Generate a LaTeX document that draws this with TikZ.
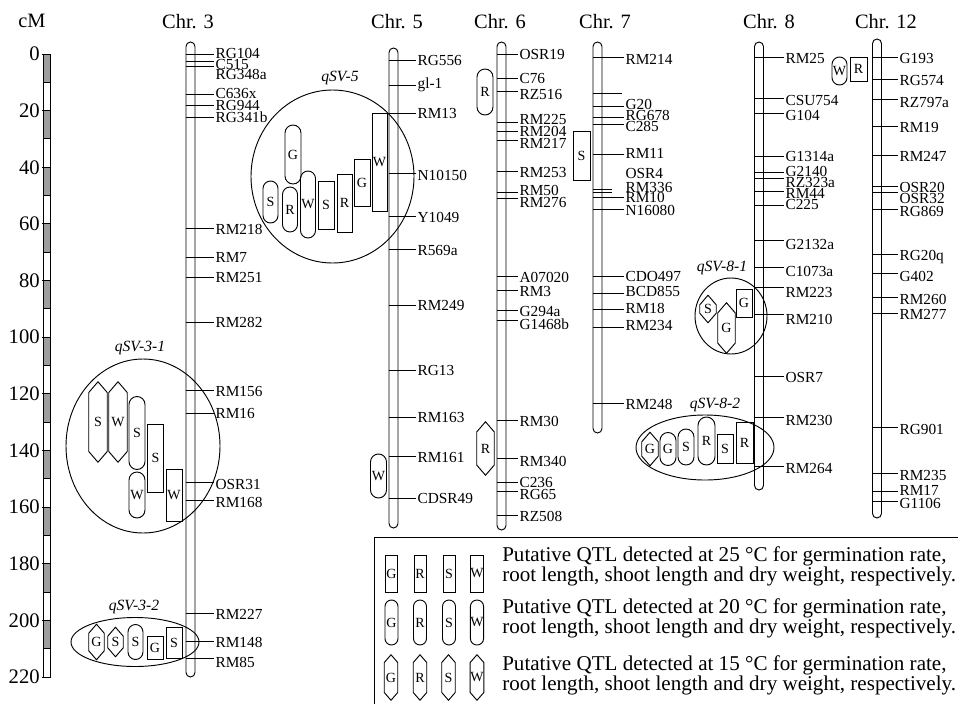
\documentclass[tikz,border=0pt]{standalone}
\usepackage{fontspec}
\setmainfont{Liberation Serif}
\usetikzlibrary{shapes.geometric,positioning}

\newcommand{\pxu}{0.75pt}
\tikzset{
  chrbar/.style={draw, line width=0.7pt, inner sep=0pt, minimum width=9*\pxu, rounded corners=4.5*\pxu},
  mline/.style={line width=0.7pt},
  mlabel/.style={anchor=west, inner sep=1pt, font=\fontsize{11.5}{12}\selectfont},
  chrtitle/.style={inner sep=0pt, font=\fontsize{15.3}{16}\selectfont},
  axnum/.style={anchor=east, inner sep=0pt, font=\fontsize{15.5}{16}\selectfont},
  qbox/.style={draw, line width=0.7pt, inner sep=0pt, font=\fontsize{10.5}{11}\selectfont},
  qcore/.style={inner sep=0pt, font=\fontsize{10.5}{11}\selectfont},
  qline/.style={line width=0.7pt},
  zone/.style={draw, ellipse, line width=0.7pt, inner sep=0pt},
  qname/.style={inner sep=0pt, font=\fontsize{11.7}{12}\selectfont\itshape},
  legtext/.style={anchor=west, align=left, inner sep=0pt, font=\fontsize{15.8}{15}\selectfont}
}
% chromosome bar: name, x, top, bottom
\newcommand{\chrom}[4]{\node[chrbar, minimum height={(#4-#3)*\pxu}] (#1) at (#2,{(#3+#4)/2}) {};}
% marker: bar, label x, line y, label y, name
\newcommand{\mkr}[5]{%
  \coordinate (#5-y) at (0,#3);
  \node[mlabel] (#5) at (#2,#4) {#5};
  \draw[mline] (#1.west |- #5-y) -- (#5.west |- #5-y);}
% short marker line: bar, line end x, label x, line y, label y, name
\newcommand{\mkrs}[6]{%
  \coordinate (#6-y) at (#2,#4);
  \node[mlabel] (#6) at (#3,#5) {#6};
  \draw[mline] (#1.west |- #6-y) -- (#6-y);}
% QTL boxes: name, x, y, width, height, letter
\newcommand{\qrect}[6]{\node[qbox, minimum width=#4*\pxu, minimum height=#5*\pxu] (#1) at (#2,#3) {#6};}
\newcommand{\qround}[6]{\node[qbox, rounded corners=#4*\pxu/2, minimum width=#4*\pxu, minimum height=#5*\pxu] (#1) at (#2,#3) {#6};}
\newcommand{\qhex}[6]{%
  \node[qcore, minimum width=#4*\pxu, minimum height=#5*\pxu] (#1) at (#2,#3) {#6};
  \draw[qline] (#1.north) -- ([yshift=-0.6*#4*\pxu]#1.north east) -- ([yshift=0.6*#4*\pxu]#1.south east)
    -- (#1.south) -- ([yshift=0.6*#4*\pxu]#1.south west) -- ([yshift=-0.6*#4*\pxu]#1.north west) -- cycle;}

\begin{document}
\begin{tikzpicture}[x=0.75pt, y=-0.75pt]
  \useasboundingbox (0,0) rectangle (958,704);

  % scale in cM
  \node[chrtitle] (cm) at (32,21) {cM};
  \foreach \i in {0,2,...,20}
    \fill[black!38] (43.5,{54+28.32*\i}) rectangle (50.5,{54+28.32*(\i+1)});
  \foreach \i in {1,...,21}
    \draw[mline] (43.5,{54+28.32*\i}) -- (50.5,{54+28.32*\i});
  \draw[mline] (43.5,54) rectangle (50.5,677);
  \foreach \v in {0,20,...,220} {
    \node[axnum] (ax\v) at (40,{54+2.832*\v}) {\v};
    \draw[mline] (41.5,{54+2.832*\v}) -- (43.5,{54+2.832*\v});
  }

  % chromosomes
  \chrom{c3}{190.5}{42}{677}
  \chrom{c5}{393.5}{48}{528}
  \chrom{c6}{501.5}{42}{530}
  \chrom{c7}{597.5}{42}{433}
  \chrom{c8}{759}{42}{490}
  \chrom{c12}{877}{39}{518}
  \node[chrtitle] (t3) at (188,22) {Chr. 3};
  \node[chrtitle] (t5) at (397,22) {Chr. 5};
  \node[chrtitle] (t6) at (500,22) {Chr. 6};
  \node[chrtitle] (t7) at (605,22) {Chr. 7};
  \node[chrtitle] (t8) at (769,22) {Chr. 8};
  \node[chrtitle] (t12) at (886,22) {Chr. 12};

  % Chr. 3
  \mkr{c3}{214}{54}{53}{RG104}
  \mkr{c3}{214}{61}{64}{C515}
  \mkr{c3}{214}{66}{74}{RG348a}
  \mkr{c3}{214}{94}{93}{C636x}
  \mkr{c3}{214}{105}{105}{RG944}
  \mkr{c3}{214}{117}{117}{RG341b}
  \mkr{c3}{214}{228}{229}{RM218}
  \mkr{c3}{214}{257}{257}{RM7}
  \mkr{c3}{214}{277}{277}{RM251}
  \mkr{c3}{214}{322}{322}{RM282}
  \mkr{c3}{214}{390}{391}{RM156}
  \mkr{c3}{214}{413}{413}{RM16}
  \mkr{c3}{214}{482}{484}{OSR31}
  \mkr{c3}{214}{500}{502}{RM168}
  \mkr{c3}{214}{613}{614}{RM227}
  \mkr{c3}{214}{641}{642}{RM148}
  \mkr{c3}{214}{658}{662}{RM85}

  % Chr. 5
  \mkr{c5}{416}{60}{60}{RG556}
  \mkr{c5}{416}{85}{85}{gl-1}
  \mkr{c5}{416}{113}{113}{RM13}
  \mkr{c5}{416}{173}{175}{N10150}
  \mkr{c5}{416}{216}{217}{Y1049}
  \mkr{c5}{416}{249}{250}{R569a}
  \mkr{c5}{416}{305}{305}{RM249}
  \mkr{c5}{416}{370}{370}{RG13}
  \mkr{c5}{416}{417}{417}{RM163}
  \mkr{c5}{416}{456}{457}{RM161}
  \mkr{c5}{416}{498}{498}{CDSR49}

  % Chr. 6
  \mkr{c6}{518}{54}{54}{OSR19}
  \mkr{c6}{518}{78}{78}{C76}
  \mkr{c6}{518}{91}{94}{RZ516}
  \mkr{c6}{518}{122}{119}{RM225}
  \mkr{c6}{518}{131}{131}{RM204}
  \mkr{c6}{518}{140}{143}{RM217}
  \mkr{c6}{518}{171}{172}{RM253}
  \mkr{c6}{518}{192}{190}{RM50}
  \mkr{c6}{518}{198}{202}{RM276}
  \mkr{c6}{518}{276}{277}{A07020}
  \mkr{c6}{518}{290}{291}{RM3}
  \mkr{c6}{518}{310}{311}{G294a}
  \mkr{c6}{518}{320}{324}{G1468b}
  \mkr{c6}{518}{420}{421}{RM30}
  \mkr{c6}{518}{458}{461}{RM340}
  \mkr{c6}{518}{482}{482}{C236}
  \mkr{c6}{518}{491}{494}{RG65}
  \mkr{c6}{518}{515}{516}{RZ508}

  % Chr. 7
  \mkr{c7}{624}{57}{59}{RM214}
  \coordinate (c7u) at (622,93);
  \draw[mline] (c7.west |- c7u) -- (c7u);
  \mkr{c7}{624}{106}{104}{G20}
  \mkr{c7}{624}{117}{115}{RG678}
  \mkr{c7}{624}{124}{126}{C285}
  \mkr{c7}{624}{154}{153}{RM11}
  \mkrs{c7}{612}{624}{189}{173}{OSR4}
  \mkrs{c7}{612}{624}{192}{187}{RM336}
  \mkr{c7}{624}{197}{197}{RM10}
  \mkr{c7}{624}{209}{210}{N16080}
  \mkr{c7}{624}{276}{276}{CDO497}
  \mkr{c7}{624}{293}{291}{BCD855}
  \mkr{c7}{624}{309}{308}{RM18}
  \mkr{c7}{624}{327}{325}{RM234}
  \mkr{c7}{624}{403}{404}{RM248}

  % Chr. 8
  \mkr{c8}{784}{57}{58}{RM25}
  \mkr{c8}{784}{98}{100}{CSU754}
  \mkr{c8}{784}{113}{115}{G104}
  \mkr{c8}{784}{156}{156}{G1314a}
  \mkr{c8}{784}{172}{171}{G2140}
  \mkr{c8}{784}{178}{182}{RZ323a}
  \mkr{c8}{784}{191}{193}{RM44}
  \mkr{c8}{784}{205}{204}{C225}
  \mkr{c8}{784}{240}{244}{G2132a}
  \mkr{c8}{784}{267}{271}{C1073a}
  \mkr{c8}{784}{287}{292}{RM223}
  \mkr{c8}{784}{314}{319}{RM210}
  \mkr{c8}{784}{376}{377}{OSR7}
  \mkr{c8}{784}{417}{420}{RM230}
  \mkr{c8}{784}{466}{468}{RM264}

  % Chr. 12
  \mkr{c12}{898}{57}{58}{G193}
  \mkr{c12}{898}{79}{80}{RG574}
  \mkr{c12}{898}{99}{102}{RZ797a}
  \mkr{c12}{898}{126}{127}{RM19}
  \mkr{c12}{898}{155}{156}{RM247}
  \mkr{c12}{898}{186}{187}{OSR20}
  \mkr{c12}{898}{192}{198}{OSR32}
  \mkr{c12}{898}{209}{211}{RG869}
  \mkr{c12}{898}{254}{257}{RG20q}
  \mkr{c12}{898}{273}{276}{G402}
  \mkr{c12}{898}{297}{299}{RM260}
  \mkr{c12}{898}{313}{314}{RM277}
  \mkr{c12}{898}{427}{429}{RG901}
  \mkr{c12}{898}{473}{475}{RM235}
  \mkr{c12}{898}{491}{490}{RM17}
  \mkr{c12}{898}{501}{503}{G1106}

  % QTL zones
  \node[zone, minimum width=154*\pxu, minimum height=174*\pxu] (z31) at (143,446) {};
  \node[qname] (n31) at (140,348) {qSV-3-1};
  \node[zone, minimum width=128*\pxu, minimum height=49*\pxu] (z32) at (135,642) {};
  \node[qname] (n32) at (134,607) {qSV-3-2};
  \node[zone, minimum width=163*\pxu, minimum height=173*\pxu] (z5) at (332.5,176.5) {};
  \node[qname] (n5) at (340,78) {qSV-5};
  \node[zone, minimum width=72*\pxu, minimum height=76*\pxu] (z81) at (731,316) {};
  \node[qname] (n81) at (722,268) {qSV-8-1};
  \node[zone, minimum width=138*\pxu, minimum height=65*\pxu] (z82) at (705,447.5) {};
  \node[qname] (n82) at (715,405) {qSV-8-2};

  % qSV-3-1
  \qhex{a31S}{98}{422}{18}{80}{S}
  \qhex{a31W}{118}{422}{18}{80}{W}
  \qround{b31S}{137}{433}{16}{73}{S}
  \qround{b31W}{137}{495}{16}{46}{W}
  \qrect{c31S}{155.5}{458}{16}{68}{S}
  \qrect{c31W}{174}{495}{16}{52}{W}
  % qSV-3-2
  \qhex{a32G}{96.5}{642}{15}{35}{G}
  \qhex{a32S}{115.5}{642}{15}{29}{S}
  \qround{b32S}{135.5}{642}{15}{35}{S}
  \qrect{c32G}{155}{648}{16}{23}{G}
  \qrect{c32S}{174}{643}{16}{31}{S}
  % qSV-5
  \qround{b5G}{293}{154.5}{16}{59}{G}
  \qround{b5S}{270.5}{202}{15}{42}{S}
  \qround{b5R}{290}{209.5}{15}{45}{R}
  \qround{b5W}{308}{204.5}{15}{67}{W}
  \qrect{c5S}{326}{205}{16}{48}{S}
  \qrect{c5R}{344.5}{203}{15}{58}{R}
  \qrect{c5G}{362}{182.5}{16}{47}{G}
  \qrect{c5W}{379.5}{162}{15}{98}{W}
  % single QTL
  \qround{b5xW}{378.5}{476}{16}{44}{W}
  \qround{b6R}{485}{92}{16}{46}{R}
  \qhex{a6R}{485.5}{448.5}{17}{53}{R}
  \qrect{c7S}{581.5}{155.5}{17}{49}{S}
  \qround{b12W}{839.5}{71}{15}{28}{W}
  \qrect{c12R}{858.5}{69}{17}{24}{R}
  % qSV-8-1
  \qhex{a81S}{708}{309}{16}{27}{S}
  \qhex{a81G}{726.5}{328}{17}{50}{G}
  \qrect{c81G}{744}{303}{16}{28}{G}
  % qSV-8-2
  \qhex{a82G}{650}{449}{16}{33}{G}
  \qround{b82G}{668}{449}{16}{33}{G}
  \qround{b82S}{686}{447}{16}{36}{S}
  \qround{b82R}{706.5}{441}{17}{48}{R}
  \qrect{c82S}{725}{448.5}{16}{29}{S}
  \qrect{c82R}{744.5}{442.5}{17}{41}{R}

  % legend
  \draw[qline] (374,712) -- (374,537) -- (965,537);
  \qrect{lgG1}{391.5}{573.5}{12}{37}{G}
  \qrect{lgR1}{420}{573.5}{12}{37}{R}
  \qrect{lgS1}{449}{573.5}{12}{37}{S}
  \qrect{lgW1}{477}{573.5}{12}{37}{W}
  \qround{lgG2}{391.5}{622.5}{13}{45}{G}
  \qround{lgR2}{420}{622.5}{13}{45}{R}
  \qround{lgS2}{449}{622.5}{13}{45}{S}
  \qround{lgW2}{477}{622.5}{13}{45}{W}
  \qhex{lgG3}{391}{677.5}{13}{45}{G}
  \qhex{lgR3}{420}{677.5}{13}{45}{R}
  \qhex{lgS3}{448.5}{677.5}{13}{45}{S}
  \qhex{lgW3}{477}{677.5}{13}{45}{W}
  \node[legtext] (lt1) at (502,566.5) {Putative QTL detected at 25 °C for germination rate,\\root length, shoot length and dry weight, respectively.};
  \node[legtext] (lt2) at (502,618) {Putative QTL detected at 20 °C for germination rate,\\root length, shoot length and dry weight, respectively.};
  \node[legtext] (lt3) at (502,675) {Putative QTL detected at 15 °C for germination rate,\\root length, shoot length and dry weight, respectively.};
\end{tikzpicture}
\end{document}
